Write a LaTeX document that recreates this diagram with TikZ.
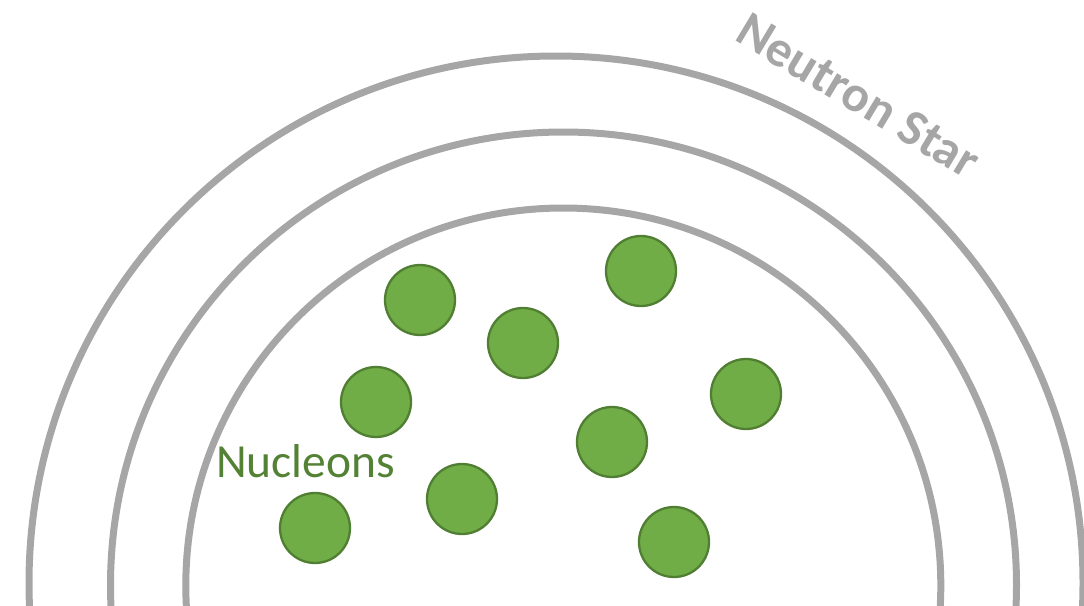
\documentclass[tikz,border=0pt]{standalone}
\usepackage{fontspec}
\setmainfont{Carlito}
\definecolor{shellgray}{HTML}{A6A6A6}
\definecolor{nucfill}{HTML}{70AD47}
\definecolor{nucedge}{HTML}{507E32}
\definecolor{labelgreen}{HTML}{548235}
\begin{document}
\begin{tikzpicture}[x=1pt,y=-1pt,
  shell/.style={draw=shellgray,line width=7pt},
  nucleon/.style={circle,draw=nucedge,fill=nucfill,line width=2.3pt,
    minimum size=70pt,inner sep=0pt}]
\useasboundingbox (0,0) rectangle (1084,605);
\clip (0,0) rectangle (1084,605);
% layers of the star
\draw[shell] (556,583) circle[radius=527];
\draw[shell] (563.5,585) circle[radius=453];
\draw[shell] (563.3,585.5) circle[radius=377.5];
% nucleons
\node[nucleon] (n1) at (420,300) {};
\node[nucleon] (n2) at (641,271) {};
\node[nucleon] (n3) at (523,343) {};
\node[nucleon] (n4) at (376,402) {};
\node[nucleon] (n5) at (746,394) {};
\node[nucleon] (n6) at (612,442) {};
\node[nucleon] (n7) at (462,499) {};
\node[nucleon] (n8) at (315,528) {};
\node[nucleon] (n9) at (674,542) {};
% labels
\node[text=labelgreen,font=\fontsize{47.5}{56}\selectfont,anchor=base west,inner sep=0pt]
  (lbl) at (216,477) {Nucleons};
\node[text=shellgray,font=\fontsize{51}{60}\selectfont\bfseries,rotate=-31,anchor=base,inner sep=0pt]
  (title) at (850,110) {Neutron Star};
\end{tikzpicture}
\end{document}
